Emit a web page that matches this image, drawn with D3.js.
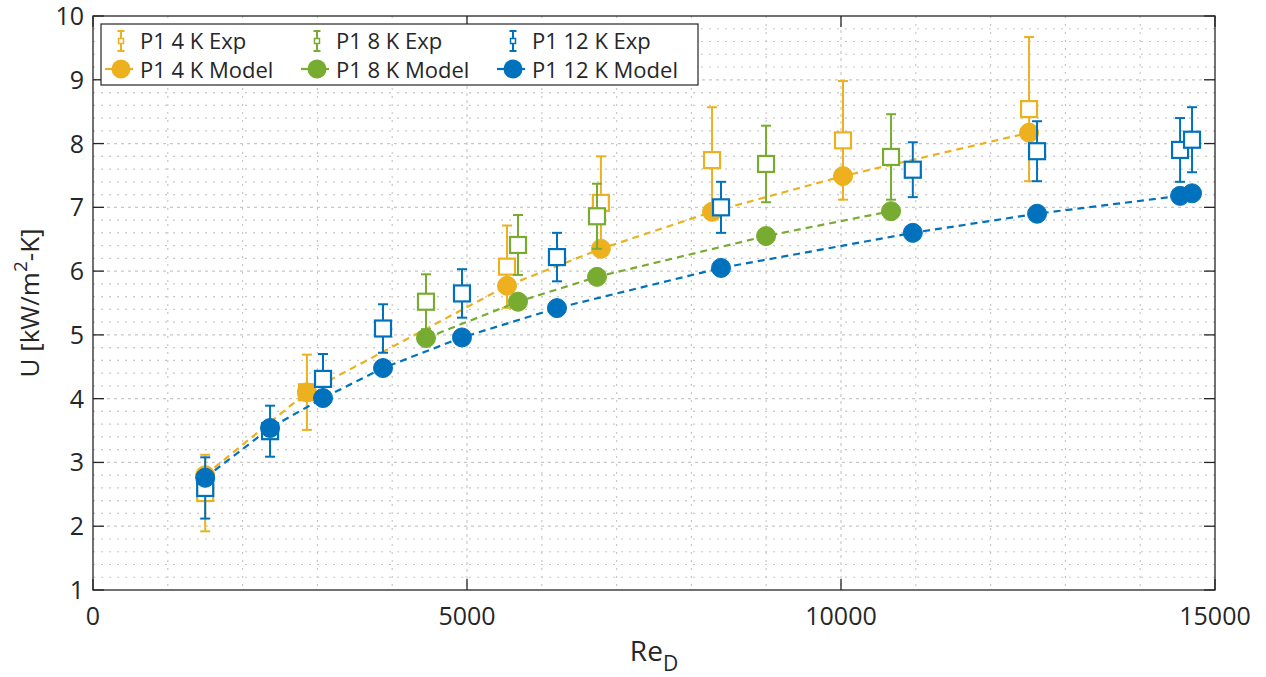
<!DOCTYPE html>
<html>
<head>
<meta charset="utf-8">
<script src="https://cdn.jsdelivr.net/npm/d3@7"></script>
<style>
  html, body { margin: 0; padding: 0; background: #fff; }
  svg { display: block; }
  text { font-family: "Open Sans", "Noto Sans", sans-serif; fill: #262626; }
</style>
</head>
<body>
<svg id="chart" width="1266" height="677"></svg>
<script>
// ---------- data ----------
const re4  = [1500, 2860, 5535, 6790, 8276, 10027, 12514];
const exp4 = [2.52, 4.10, 6.07, 7.07, 7.74, 8.05, 8.54];
const err4 = [0.60, 0.59, 0.645, 0.73, 0.83, 0.93, 1.13];
const mod4 = [2.80, 4.10, 5.77, 6.35, 6.93, 7.49, 8.17];

const re8  = [4452, 5682, 6738, 8998, 10669];
const exp8 = [5.52, 6.41, 6.86, 7.68, 7.79];
const err8 = [0.43, 0.47, 0.51, 0.60, 0.67];
const mod8 = [4.95, 5.52, 5.91, 6.55, 6.94];

const re12  = [1500, 2367, 3075, 3877, 4933, 6203, 8396, 10960, 12621, 14533, 14693];
const exp12 = [2.60, 3.49, 4.31, 5.10, 5.65, 6.22, 7.00, 7.59, 7.88, 7.90, 8.06];
const err12 = [0.48, 0.40, 0.39, 0.38, 0.38, 0.38, 0.40, 0.43, 0.47, 0.50, 0.51];
const mod12 = [2.76, 3.54, 4.01, 4.48, 4.96, 5.42, 6.05, 6.60, 6.90, 7.18, 7.22];

const seriesNames = ["P1 4 K", "P1 8 K", "P1 12 K"];
const seriesColors = ["#EDB120", "#77AC30", "#0072BD"];
const xTicks = [0, 5000, 10000, 15000];
const yTicks = [1, 2, 3, 4, 5, 6, 7, 8, 9, 10];
const xLabel = "Re";
const xLabelSub = "D";
const yLabel = "U [kW/m";
const yLabelSup = "2";
const yLabelEnd = "-K]";

// ---------- layout ----------
const L = 93, R = 1215, T = 16, B = 590;
const x = d3.scaleLinear().domain([0, 15000]).range([L, R]);
const y = d3.scaleLinear().domain([1, 10]).range([B, T]);
const axisColor = "#262626";
const gridColor = "#c8c8c8";

const svg = d3.select("#chart");
svg.append("rect").attr("width", 1266).attr("height", 677).attr("fill", "#fff");

// grid
const gx = d3.range(1000, 15000, 1000);
const gy = d3.range(1.2, 10, 0.2).map(v => +v.toFixed(1));
const grid = svg.append("g");
grid.selectAll("line.gx").data(gx).join("line")
  .attr("x1", d => x(d)).attr("x2", d => x(d)).attr("y1", T).attr("y2", B)
  .attr("stroke", gridColor).attr("stroke-width", 1.2)
  .attr("stroke-dasharray", d => d % 5000 === 0 ? "3,4" : "2,6");
grid.selectAll("line.gy").data(gy).join("line")
  .attr("y1", d => y(d)).attr("y2", d => y(d)).attr("x1", L).attr("x2", R)
  .attr("stroke", gridColor).attr("stroke-width", 1.2)
  .attr("stroke-dasharray", d => Math.abs(d - Math.round(d)) < 1e-6 ? "3,4" : "2,6");

// data
const datasets = [
  {re: re4, exp: exp4, err: err4, mod: mod4},
  {re: re8, exp: exp8, err: err8, mod: mod8},
  {re: re12, exp: exp12, err: err12, mod: mod12}
];
const sq = 16, cap = 5, rC = 9.5;
datasets.forEach((ds, i) => {
  const c = seriesColors[i];
  const pts = ds.re.map((r, j) => ({r, e: ds.exp[j], s: ds.err[j], m: ds.mod[j]}));
  const g = svg.append("g");
  // error bars
  g.selectAll("line.eb").data(pts).join("line")
    .attr("x1", d => x(d.r)).attr("x2", d => x(d.r))
    .attr("y1", d => y(d.e - d.s)).attr("y2", d => y(d.e + d.s))
    .attr("stroke", c).attr("stroke-width", 2);
  g.selectAll("line.ct").data(pts).join("line")
    .attr("x1", d => x(d.r) - cap).attr("x2", d => x(d.r) + cap)
    .attr("y1", d => y(d.e + d.s)).attr("y2", d => y(d.e + d.s))
    .attr("stroke", c).attr("stroke-width", 2);
  g.selectAll("line.cb").data(pts).join("line")
    .attr("x1", d => x(d.r) - cap).attr("x2", d => x(d.r) + cap)
    .attr("y1", d => y(d.e - d.s)).attr("y2", d => y(d.e - d.s))
    .attr("stroke", c).attr("stroke-width", 2);
  g.selectAll("rect").data(pts).join("rect")
    .attr("x", d => x(d.r) - sq / 2).attr("y", d => y(d.e) - sq / 2)
    .attr("width", sq).attr("height", sq)
    .attr("fill", "#fff").attr("stroke", c).attr("stroke-width", 2.2);
  // model
  const line = d3.line().x(d => x(d.r)).y(d => y(d.m));
  svg.append("path").datum(pts).attr("d", line)
    .attr("fill", "none").attr("stroke", c).attr("stroke-width", 2.2)
    .attr("stroke-dasharray", "7,5");
  svg.append("g").selectAll("circle").data(pts).join("circle")
    .attr("cx", d => x(d.r)).attr("cy", d => y(d.m)).attr("r", rC)
    .attr("fill", c).attr("stroke", c).attr("stroke-width", 1);
});

// axes box and ticks
const ax = svg.append("g");
ax.append("rect").attr("x", L).attr("y", T).attr("width", R - L).attr("height", B - T)
  .attr("fill", "none").attr("stroke", axisColor).attr("stroke-width", 1.3);
const tl = 11;
xTicks.forEach(v => {
  ax.append("line").attr("x1", x(v)).attr("x2", x(v)).attr("y1", B).attr("y2", B - tl)
    .attr("stroke", axisColor).attr("stroke-width", 1.3);
  ax.append("line").attr("x1", x(v)).attr("x2", x(v)).attr("y1", T).attr("y2", T + tl)
    .attr("stroke", axisColor).attr("stroke-width", 1.3);
  ax.append("text").attr("x", x(v)).attr("y", 625).attr("text-anchor", "middle")
    .attr("font-size", 25).text(d3.format("d")(v));
});
yTicks.forEach(v => {
  ax.append("line").attr("x1", L).attr("x2", L + tl).attr("y1", y(v)).attr("y2", y(v))
    .attr("stroke", axisColor).attr("stroke-width", 1.3);
  ax.append("line").attr("x1", R).attr("x2", R - tl).attr("y1", y(v)).attr("y2", y(v))
    .attr("stroke", axisColor).attr("stroke-width", 1.3);
  ax.append("text").attr("x", 84).attr("y", y(v) + 9).attr("text-anchor", "end")
    .attr("font-size", 25).text(v);
});

// axis labels
const xl = ax.append("text").attr("x", (L + R) / 2).attr("y", 661).attr("text-anchor", "middle")
  .attr("font-size", 28);
xl.append("tspan").text(xLabel);
xl.append("tspan").attr("font-size", 21).attr("dy", 10).text(xLabelSub);

const yl = ax.append("text").attr("transform", `translate(39,${(T + B) / 2}) rotate(-90)`)
  .attr("text-anchor", "middle").attr("font-size", 26);
yl.append("tspan").text(yLabel);
yl.append("tspan").attr("font-size", 19).attr("dy", -12).text(yLabelSup);
yl.append("tspan").attr("dy", 12).text(yLabelEnd);

// legend
const lg = svg.append("g");
lg.append("rect").attr("x", 101).attr("y", 24).attr("width", 597).attr("height", 61)
  .attr("fill", "#fff").attr("stroke", axisColor).attr("stroke-width", 1.2);
const colX = [121, 317, 513];
seriesNames.forEach((nm, i) => {
  const c = seriesColors[i], cx = colX[i];
  // exp icon
  lg.append("line").attr("x1", cx).attr("x2", cx).attr("y1", 31).attr("y2", 51)
    .attr("stroke", c).attr("stroke-width", 2);
  [31, 51].forEach(yy => lg.append("line").attr("x1", cx - 3.5).attr("x2", cx + 3.5)
    .attr("y1", yy).attr("y2", yy).attr("stroke", c).attr("stroke-width", 2));
  lg.append("rect").attr("x", cx - 2.5).attr("y", 38.5).attr("width", 5).attr("height", 5)
    .attr("fill", "#fff").attr("stroke", c).attr("stroke-width", 1.5);
  lg.append("text").attr("x", cx + 19).attr("y", 49).attr("font-size", 22).text(nm + " Exp");
  // model icon
  lg.append("line").attr("x1", cx - 16).attr("x2", cx + 12).attr("y1", 69).attr("y2", 69)
    .attr("stroke", c).attr("stroke-width", 2.2);
  lg.append("circle").attr("cx", cx).attr("cy", 69).attr("r", rC).attr("fill", c);
  lg.append("text").attr("x", cx + 19).attr("y", 77.5).attr("font-size", 22).text(nm + " Model");
});
</script>
</body>
</html>
